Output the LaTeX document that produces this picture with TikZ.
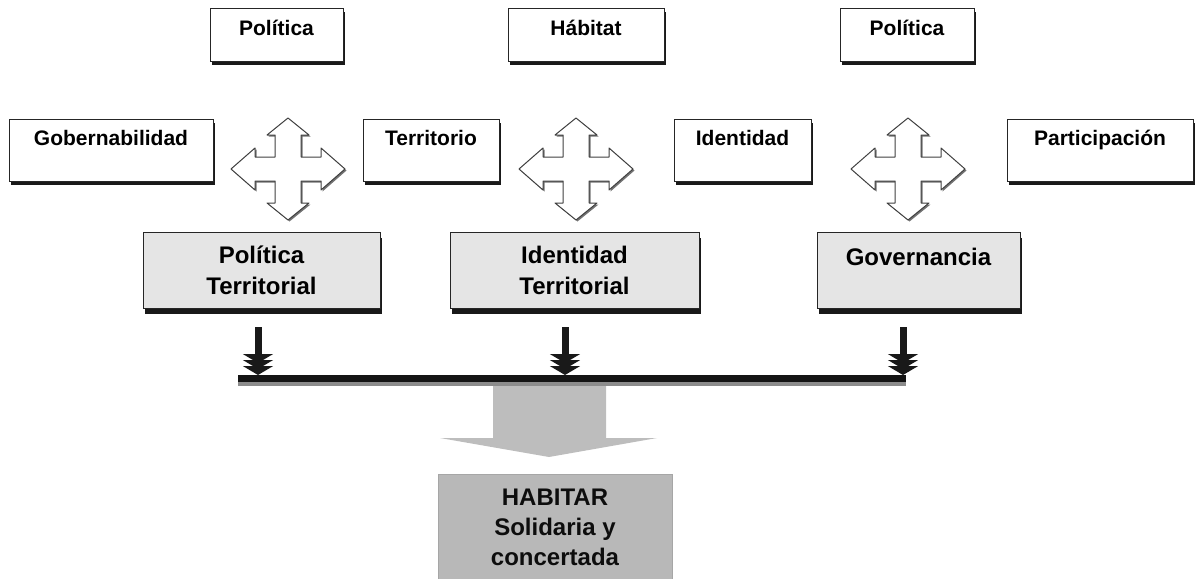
\documentclass[tikz,border=0pt]{standalone}
\usepackage{fontspec}
\setmainfont{Liberation Sans}
\usetikzlibrary{arrows.meta,shadows}
\begin{document}
\begin{tikzpicture}[x=1pt,y=-1pt,
  boxbase/.style={draw=black!85, line width=0.9pt, inner sep=0pt, text=black},
  smallbox/.style={boxbase, fill=white,
    font=\fontsize{21}{25}\selectfont\bfseries, text height=15pt,
    general shadow={fill=black!90, shadow xshift=1.5pt, shadow yshift=-4pt}},
  toprow/.style={smallbox, minimum height=53pt, text depth=13pt},
  siderow/.style={smallbox, minimum height=62pt, text depth=25pt},
  midbox/.style={boxbase, fill=black!10, minimum height=76pt, align=center,
    font=\fontsize{24}{31}\selectfont\bfseries,
    general shadow={fill=black!90, shadow xshift=1.5pt, shadow yshift=-6pt}},
  resultbox/.style={draw=black!35, line width=0.6pt, fill=black!28, inner sep=0pt,
    align=center, font=\fontsize{24}{30}\selectfont\bfseries, text=black!95},
  droparrow/.style={line width=7pt, black!90,
    -{Triangle[width=30pt 0 0,length=9pt 0 0,sep=-3pt]Triangle[width=30pt 0 0,length=9pt 0 0,sep=-3pt]Triangle[width=30pt 0 0,length=9pt 0 0]}},
  bigarrow/.style={fill=black!26},
  fourway/.pic={
    \fill[black!55] [shift={(1.5,1.5)}]
      (0,-51) -- (21,-34) -- (13,-34) -- (13,-12) -- (33,-12) -- (33,-21) -- (57,0)
      -- (33,21) -- (33,12) -- (13,12) -- (13,34) -- (21,34) -- (0,51)
      -- (-21,34) -- (-13,34) -- (-13,12) -- (-33,12) -- (-33,21) -- (-57,0)
      -- (-33,-21) -- (-33,-12) -- (-13,-12) -- (-13,-34) -- (-21,-34) -- cycle;
    \filldraw[fill=white, draw=black!75, line width=1pt, line join=round]
      (0,-51) -- (21,-34) -- (13,-34) -- (13,-12) -- (33,-12) -- (33,-21) -- (57,0)
      -- (33,21) -- (33,12) -- (13,12) -- (13,34) -- (21,34) -- (0,51)
      -- (-21,34) -- (-13,34) -- (-13,12) -- (-33,12) -- (-33,21) -- (-57,0)
      -- (-33,-21) -- (-33,-12) -- (-13,-12) -- (-13,-34) -- (-21,-34) -- cycle;
  }
]
\useasboundingbox (0,0) rectangle (1196,578);

% top row
\node[toprow, minimum width=133pt] (pol1) at (276.5,34.5) {Política};
\node[toprow, minimum width=156pt] (hab)  at (586,34.5)   {Hábitat};
\node[toprow, minimum width=134pt] (pol2) at (907,34.5)   {Política};

% second row
\node[siderow, minimum width=204pt] (gob) at (111,150)    {Gobernabilidad};
\node[siderow, minimum width=136pt] (ter) at (431,150)    {Territorio};
\node[siderow, minimum width=137pt] (ide) at (742.5,150)  {Identidad};
\node[siderow, minimum width=186pt] (par) at (1100,150)   {Participación};

% four-way arrows
\pic at (288,169) {fourway};
\pic at (576,169) {fourway};
\pic at (908,169) {fourway};

% dimension boxes
\node[midbox, minimum width=237pt] (pt)  at (261.5,270) {Política\\Territorial};
\node[midbox, minimum width=249pt] (it)  at (574.5,270) {Identidad\\Territorial};
\node[midbox, minimum width=203pt, text height=17pt, text depth=27pt] (gov) at (918.5,270) {Governancia};

% collecting bar
\coordinate (b1) at (258,375);
\coordinate (b2) at (565,375);
\coordinate (b3) at (903,375);
\fill[black!92] (238,375) rectangle (906,382);
\fill[black!45] (238,382) rectangle (906,386);

\draw[droparrow, shorten <=19pt] (pt.south -| b1) -- (b1);
\draw[droparrow, shorten <=19pt] (it.south -| b2) -- (b2);
\draw[droparrow, shorten <=19pt] (gov.south -| b3) -- (b3);

% result
\fill[bigarrow] (493,386) -- (606,386) -- (606,438) -- (657,438) -- (549,457)
  -- (440,438) -- (493,438) -- cycle;
\node[resultbox, minimum width=234pt, minimum height=106pt] (hb) at (555,527)
  {HABITAR\\Solidaria y\\concertada};
\end{tikzpicture}
\end{document}
